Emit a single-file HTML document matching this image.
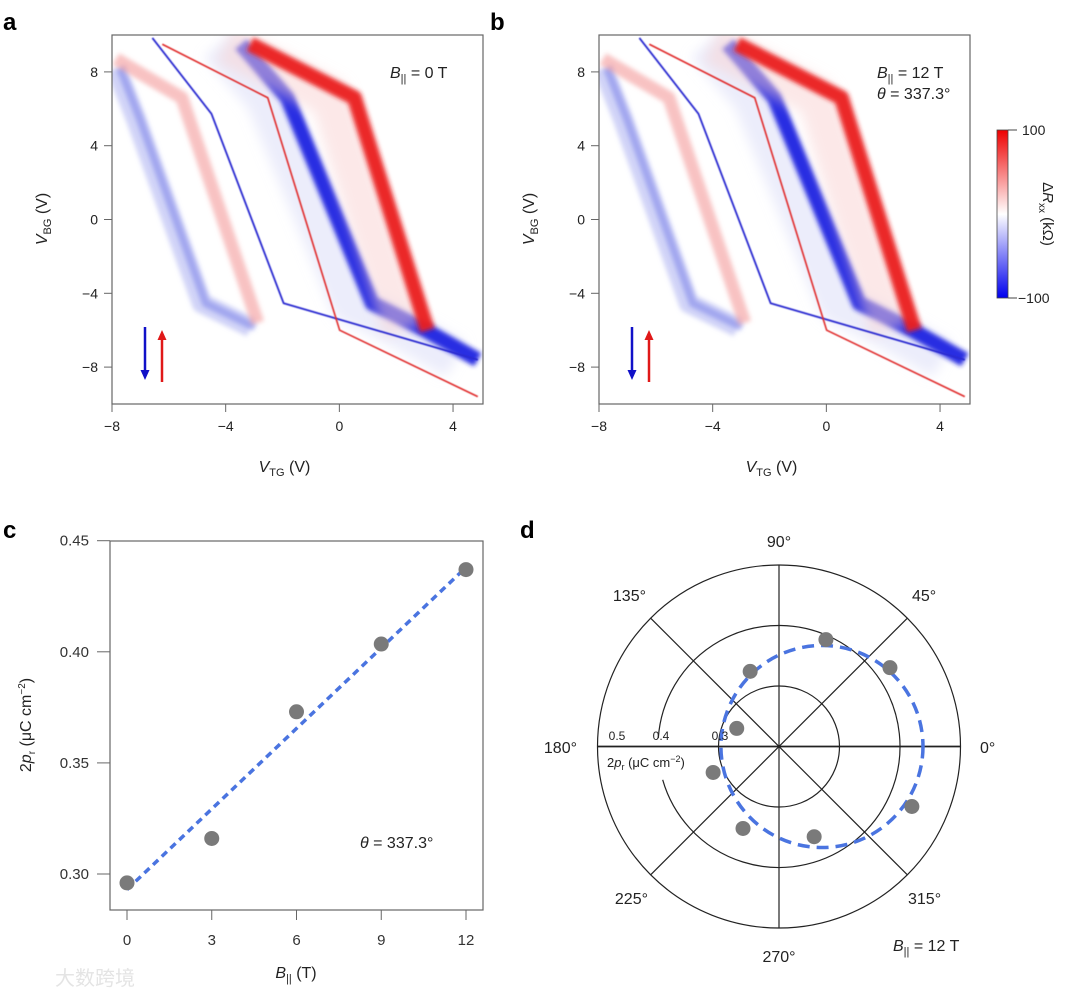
<!DOCTYPE html>
<html><head><meta charset="utf-8">
<style>
html,body{margin:0;padding:0;background:#fff;}
svg{display:block;font-family:"Liberation Sans","Noto Sans CJK SC",sans-serif;}
</style></head>
<body>
<svg id="fig" width="1080" height="997" viewBox="0 0 1080 997" xmlns="http://www.w3.org/2000/svg">
<defs>
<filter id="blur3" x="-20%" y="-20%" width="140%" height="140%"><feGaussianBlur stdDeviation="2.5"/></filter>
<filter id="blur1" x="-20%" y="-20%" width="140%" height="140%"><feGaussianBlur stdDeviation="0.6"/></filter>
<filter id="blur6" x="-20%" y="-20%" width="140%" height="140%"><feGaussianBlur stdDeviation="6"/></filter>
<clipPath id="clipA"><rect x="112" y="35" width="371" height="369"/></clipPath>
<clipPath id="clipB"><rect x="599" y="35" width="371" height="369"/></clipPath>
<linearGradient id="cbar" x1="0" y1="1" x2="0" y2="0">
<stop offset="0" stop-color="#0000ee"/><stop offset="0.5" stop-color="#ffffff"/><stop offset="1" stop-color="#ee0000"/>
</linearGradient>
</defs>
<g id="root"></g>
</svg>
<script>
// ---------- data: panels a/b band ridges (VTG, VBG) ----------
const bandLightBlue = [[-7.86,8.2],[-7.17,5.5],[-4.84,-4.54],[-3.11,-5.84]];
const bandLightRed = [[-7.86,8.7],[-5.54,6.6],[-2.87,-5.6]];
const lineBlueThin = [[-6.58,9.84],[-4.5,5.73],[-1.96,-4.54],[4.87,-7.6]];
const lineRedThin = [[-6.23,9.5],[-2.52,6.6],[0.01,-6.0],[4.87,-9.6]];
const bandBlueThick = [[-3.46,9.5],[-1.83,6.6],[1.16,-4.54],[3.03,-6.0],[4.87,-7.6]];
const bandRedThick = [[-3.21,9.5],[0.46,6.6],[3.03,-6.0]];
const xTicksAB = [-8,-4,0,4];
const yTicksAB = [8,4,0,-4,-8];
// ---------- data: panel c ----------
const bField = [0,3,6,9,12];
const polarization = [0.296,0.316,0.373,0.4035,0.437];
const fitLineC = [0.293,0.438]; // values at B=0 and B=12
const xTicksC = [0,3,6,9,12];
const yTicksC = [0.30,0.35,0.40,0.45];
// ---------- data: panel d ----------
const angleDeg = [66.3,35.4,111,156.8,201.5,246.3,291.3,335.7];
const prValue = [0.393,0.425,0.333,0.276,0.317,0.348,0.360,0.441];
const ringValues = [0.3,0.4,0.5];
const fitCircleShift = 0.071;  // centre offset along 0°, radial units
const fitCircleRadius = 0.167;

const NS="http://www.w3.org/2000/svg";
const root=document.getElementById('root');
function mk(tag,attrs,parent,text){const e=document.createElementNS(NS,tag);for(const k in attrs)e.setAttribute(k,attrs[k]);if(text!==undefined)e.textContent=text;(parent||root).appendChild(e);return e;}

// ---------- panels a & b ----------
function heatPanel(left,clip,letter,labelLines){
  const top=35,w=371,h=369;
  const sx=v=>left+(v+8)*28.42;
  const sy=v=>top+(10-v)*18.45;
  const g=mk('g',{});
  
  
  mk('rect',{x:left,y:top,width:w,height:h,fill:'#fff'},g);
  const hg=mk('g',{'clip-path':'url(#'+clip+')'},g);
  function band(arr,color,width,op,filt,dx,name){
    const p=mk('polyline',{points:arr.map(d=>(sx(d[0])+dx)+','+sy(d[1])).join(' '),fill:'none',stroke:color,'stroke-width':width,'stroke-opacity':op,'stroke-linejoin':'round',filter:'url(#'+filt+')'},hg);
    
    
  }
  band(bandLightBlue,'#9aa0ee',20,0.45,'blur3',0,'light-blue-band');
  band(bandLightBlue,'#6f78e8',8,0.5,'blur3',4,'light-blue-band-core');
  band(bandLightRed,'#f39a9a',13,0.6,'blur3',0,'light-red-band');
  band(bandBlueThick,'#d5d8f7',40,0.45,'blur6',-22,'blue-band-fade');
  band(bandBlueThick,'#1d22e0',15,0.95,'blur3',0,'blue-thick-band');
  band(bandRedThick,'#fad2d2',40,0.5,'blur6',-22,'red-band-fade');
  band(bandRedThick,'#ea1a1a',15,0.95,'blur3',2,'red-thick-band');
  band(lineBlueThin,'#2a2ad0',1.8,1,'blur1',0,'blue-thin-line');
  band(lineRedThin,'#e02a2a',1.6,1,'blur1',0,'red-thin-line');
  mk('rect',{x:left,y:top,width:w,height:h,fill:'none',stroke:'#666','stroke-width':1.2},g);
  xTicksAB.forEach(t=>{
    const x=sx(t);
    mk('line',{x1:x,y1:top+h,x2:x,y2:top+h+8,stroke:'#666'},g);
    const tx=mk('text',{x:x,y:top+h+27,'font-size':14,'text-anchor':'middle',fill:'#222'},g,t<0?'−'+(-t):t);
    
    
  });
  yTicksAB.forEach(t=>{
    const y=sy(t);
    mk('line',{x1:left-8,y1:y,x2:left,y2:y,stroke:'#666'},g);
    const ty=mk('text',{x:left-14,y:y+5,'font-size':14,'text-anchor':'end',fill:'#222'},g,t<0?'−'+(-t):t);
    
    
  });
  const xt=mk('text',{x:left+w/2-13,y:472,'font-size':16,'text-anchor':'middle',fill:'#222'},g);
  
  
  xt.innerHTML='<tspan font-style="italic">V</tspan><tspan font-size="11" dy="4">TG</tspan><tspan dy="-4"> (V)</tspan>';
  const yt=mk('text',{transform:'translate('+(left-65)+',219) rotate(-90)','font-size':16,'text-anchor':'middle',fill:'#222'},g);
  
  
  yt.innerHTML='<tspan font-style="italic">V</tspan><tspan font-size="11" dy="4">BG</tspan><tspan dy="-4"> (V)</tspan>';
  const pl=mk('text',{x:left-109,y:30,'font-size':24,'font-weight':'bold',fill:'#000'},g,letter);
  
  
  labelLines.forEach((l,i)=>{
    const t=mk('text',{x:left+278,y:78+i*21,'font-size':16,fill:'#222'},g);
    
    
    t.innerHTML=l;
  });
  // arrows
  const ax=left+33;
  mk('line',{x1:ax,y1:327,x2:ax,y2:372,stroke:'#1010c8','stroke-width':2.5},g);
  mk('polygon',{points:(ax-4.5)+',370 '+(ax+4.5)+',370 '+ax+',380',fill:'#1010c8'},g);
  mk('line',{x1:ax+17,y1:338,x2:ax+17,y2:382,stroke:'#e01818','stroke-width':2.5},g);
  mk('polygon',{points:(ax+12.5)+',340 '+(ax+21.5)+',340 '+(ax+17)+',330',fill:'#e01818'},g);
}
heatPanel(112,'clipA','a',['<tspan font-style="italic">B</tspan><tspan font-size="11" dy="4">||</tspan><tspan dy="-4"> = 0 T</tspan>']);
heatPanel(599,'clipB','b',['<tspan font-style="italic">B</tspan><tspan font-size="11" dy="4">||</tspan><tspan dy="-4"> = 12 T</tspan>','<tspan font-style="italic">θ</tspan> = 337.3°']);

// colorbar
const cb=mk('g',{});


mk('rect',{x:997,y:130,width:11,height:168,fill:'url(#cbar)',stroke:'#444','stroke-width':0.8},cb);
mk('line',{x1:1008,y1:130,x2:1017,y2:130,stroke:'#444'},cb);
mk('line',{x1:1008,y1:298,x2:1017,y2:298,stroke:'#444'},cb);
mk('text',{x:1022,y:135,'font-size':14,fill:'#222'},cb,'100');
mk('text',{x:1018,y:303,'font-size':14,fill:'#222'},cb,'−100');
const cbt=mk('text',{transform:'translate(1043,214) rotate(90)','font-size':15,'text-anchor':'middle',fill:'#222'},cb);
cbt.innerHTML='Δ<tspan font-style="italic">R</tspan><tspan font-size="10" dy="4">xx</tspan><tspan dy="-4"> (kΩ)</tspan>';

// ---------- panel c ----------
(function(){
  const L=110,T=541,W=373,H=369;
  const sx=v=>127+v*(466-127)/12;
  const sy=v=>874-(v-0.30)*(874-540.7)/0.15;
  const g=mk('g',{});
  
  
  mk('rect',{x:L,y:T,width:W,height:H,fill:'none',stroke:'#666','stroke-width':1.2},g);
  xTicksC.forEach(t=>{
    mk('line',{x1:sx(t),y1:T+H,x2:sx(t),y2:T+H+10,stroke:'#666'},g);
    const e=mk('text',{x:sx(t),y:945,'font-size':15,'text-anchor':'middle',fill:'#333'},g,t);
    
    
  });
  yTicksC.forEach(t=>{
    mk('line',{x1:L-13,y1:sy(t),x2:L,y2:sy(t),stroke:'#666'},g);
    const e=mk('text',{x:89,y:sy(t)+5,'font-size':15,'text-anchor':'end',fill:'#333'},g,t.toFixed(2));
    
    
  });
  const fit=mk('line',{x1:sx(0),y1:sy(fitLineC[0]),x2:sx(12),y2:sy(fitLineC[1]),stroke:'#4a74e0','stroke-width':3.5,'stroke-dasharray':'7,5'},g);
  
  
  bField.forEach((b,i)=>{
    const c=mk('circle',{cx:sx(b),cy:sy(polarization[i]),r:7.5,fill:'#7a7a7a'},g);
    
    
  });
  const xt=mk('text',{x:296,y:978,'font-size':16,'text-anchor':'middle',fill:'#222'},g);
  
  
  xt.innerHTML='<tspan font-style="italic">B</tspan><tspan font-size="11" dy="4">||</tspan><tspan dy="-4"> (T)</tspan>';
  const yt=mk('text',{transform:'translate(31,725) rotate(-90)','font-size':16,'text-anchor':'middle',fill:'#222'},g);
  
  
  yt.innerHTML='2<tspan font-style="italic">p</tspan><tspan font-size="10" dy="4">r</tspan><tspan dy="-4"> (μC cm</tspan><tspan font-size="10" dy="-6">−2</tspan><tspan dy="6">)</tspan>';
  const ann=mk('text',{x:360,y:848,'font-size':16,fill:'#222'},g);
  
  
  ann.innerHTML='<tspan font-style="italic">θ</tspan> = 337.3°';
  const pl=mk('text',{x:3,y:538,'font-size':24,'font-weight':'bold',fill:'#000'},g,'c');
  
  
})();

// ---------- panel d ----------
(function(){
  const cx=779,cy=746.5,k=605,r0=0.2;
  const rr=v=>(v-r0)*k;
  const g=mk('g',{});
  
  
  ringValues.forEach((v,i)=>{
    const r=rr(v);
    let el;
    if(i===1){
      const a1=176*Math.PI/180,a2=196*Math.PI/180;
      el=mk('path',{d:'M'+(cx+r*Math.cos(a2))+','+(cy-r*Math.sin(a2))+' A'+r+','+r+' 0 1 0 '+(cx+r*Math.cos(a1))+','+(cy-r*Math.sin(a1)),fill:'none',stroke:'#222','stroke-width':1.2},g);
    } else el=mk('circle',{cx:cx,cy:cy,r:r,fill:'none',stroke:'#222','stroke-width':1.2},g);
    
    
  });
  const R=rr(0.5);
  for(let a=0;a<180;a+=45){
    const t=a*Math.PI/180;
    const l=mk('line',{x1:cx-R*Math.cos(t),y1:cy+R*Math.sin(t),x2:cx+R*Math.cos(t),y2:cy-R*Math.sin(t),stroke:'#222','stroke-width':a===0?1.8:1.2},g);
    
    
  }
  const fc=mk('circle',{cx:cx+fitCircleShift*k,cy:cy,r:fitCircleRadius*k,fill:'none',stroke:'#4a74e0','stroke-width':3.5,'stroke-dasharray':'12,7'},g);
  
  
  angleDeg.forEach((a,i)=>{
    const t=a*Math.PI/180,r=rr(prValue[i]);
    const c=mk('circle',{cx:cx+r*Math.cos(t),cy:cy-r*Math.sin(t),r:7.5,fill:'#7a7a7a'},g);
    
    
  });
  const labs=[['90°',779,547,'middle'],['0°',980,753,'start'],['180°',577,753,'end'],['45°',912,601,'start'],['135°',646,601,'end'],['225°',648,904,'end'],['315°',908,904,'start'],['270°',779,962,'middle']];
  labs.forEach(l=>{
    const e=mk('text',{x:l[1],y:l[2],'font-size':16,'text-anchor':l[3],fill:'#222'},g,l[0]);
    
    
  });
  const rlx=[720,661,617];
  ringValues.forEach((v,i)=>{
    const e=mk('text',{x:rlx[i],y:740,'font-size':12,'text-anchor':'middle',fill:'#222'},g,v.toFixed(1));
    
    
  });
  const rt=mk('text',{x:607,y:767,'font-size':13,fill:'#222'},g);
  
  
  rt.innerHTML='2<tspan font-style="italic">p</tspan><tspan font-size="9" dy="3">r</tspan><tspan dy="-3"> (μC cm</tspan><tspan font-size="9" dy="-5">−2</tspan><tspan dy="5">)</tspan>';
  const bl=mk('text',{x:893,y:951,'font-size':16,fill:'#222'},g);
  
  
  bl.innerHTML='<tspan font-style="italic">B</tspan><tspan font-size="11" dy="4">||</tspan><tspan dy="-4"> = 12 T</tspan>';
  const pl=mk('text',{x:520,y:538,'font-size':24,'font-weight':'bold',fill:'#000'},g,'d');
  
  
})();

const wm=mk('text',{x:55,y:985,'font-size':20,fill:'#e4e4e4'},root,'大数跨境');


</script>
</body></html>
